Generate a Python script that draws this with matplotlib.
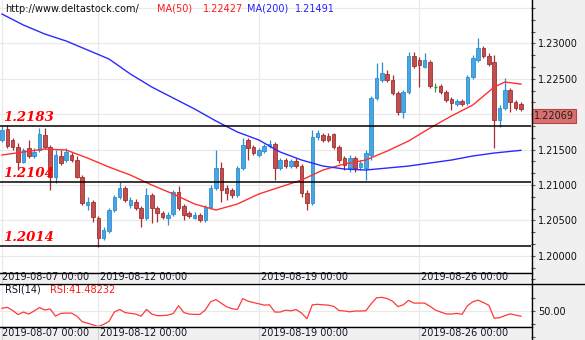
import matplotlib
matplotlib.use("Agg")
import matplotlib.pyplot as plt
from matplotlib.patches import Rectangle
from matplotlib.lines import Line2D
from matplotlib.ticker import MultipleLocator, FormatStrFormatter, FixedLocator
import numpy as np

# ---------------------------------------------------------------------------
# EUR/USD, 4-hour candles starting 2019-08-07 00:00
# ---------------------------------------------------------------------------
opens = [
    1.21637, 1.21792, 1.21637, 1.21538, 1.21326, 1.21524, 1.21411, 1.21495, 1.21707, 1.21538,
    1.21114, 1.21411, 1.21354, 1.21425, 1.21354, 1.21114, 1.20719, 1.20761, 1.20535, 1.20252,
    1.20351, 1.20648, 1.20832, 1.20959, 1.20719, 1.20761, 1.20676, 1.20535, 1.20860, 1.20676,
    1.20606, 1.20535, 1.20592, 1.20902, 1.20704, 1.20606, 1.20535, 1.20577, 1.20507, 1.20690,
    1.20959, 1.21241, 1.20959, 1.20930, 1.20860, 1.21241, 1.21637, 1.21538, 1.21425, 1.21481,
    1.21552, 1.21580, 1.21241, 1.21354, 1.21269, 1.21340, 1.21269, 1.20888, 1.20747, 1.21679,
    1.21707, 1.21693, 1.21721, 1.21538, 1.21382, 1.21241, 1.21382, 1.21255, 1.21241, 1.21425,
    1.22230, 1.22484, 1.22569, 1.22484, 1.22300, 1.22032, 1.22315, 1.22823, 1.22767, 1.22668,
    1.22738, 1.22385, 1.22399, 1.22315, 1.22216, 1.22145, 1.22187, 1.22159, 1.22526, 1.22767,
    1.22936, 1.22823, 1.22738, 1.21919, 1.22089, 1.22343, 1.22173, 1.22145,
]
highs = [
    1.21834, 1.21849, 1.21665, 1.21594, 1.21524, 1.21637, 1.21524, 1.21806, 1.21806, 1.21566,
    1.21495, 1.21495, 1.21524, 1.21467, 1.21411, 1.21142, 1.20832, 1.20789, 1.20563, 1.20408,
    1.20676, 1.20860, 1.21043, 1.20987, 1.20832, 1.20803, 1.20704, 1.20959, 1.20888, 1.20704,
    1.20634, 1.20620, 1.20930, 1.20987, 1.20733, 1.20634, 1.20620, 1.20606, 1.20719, 1.21001,
    1.21495, 1.21326, 1.21001, 1.20959, 1.21269, 1.21665, 1.21665, 1.21566, 1.21524, 1.21580,
    1.21637, 1.21608, 1.21382, 1.21382, 1.21368, 1.21382, 1.21298, 1.20930, 1.21778, 1.21778,
    1.21736, 1.21736, 1.21736, 1.21566, 1.21411, 1.21425, 1.21411, 1.21354, 1.21495, 1.22258,
    1.22724, 1.22738, 1.22625, 1.22555, 1.22329, 1.22343, 1.22880, 1.22880, 1.22809, 1.22865,
    1.22767, 1.22442, 1.22428, 1.22343, 1.22244, 1.22216, 1.22216, 1.22555, 1.22837, 1.23077,
    1.22964, 1.22865, 1.22837, 1.22131, 1.22512, 1.22371, 1.22202, 1.22173,
]
lows = [
    1.21608, 1.21524, 1.21495, 1.21213, 1.21312, 1.21382, 1.21382, 1.21467, 1.21510, 1.20930,
    1.21029, 1.21284, 1.21326, 1.21326, 1.21100, 1.20719, 1.20648, 1.20478, 1.20125, 1.20224,
    1.20323, 1.20620, 1.20803, 1.20761, 1.20676, 1.20648, 1.20408, 1.20507, 1.20464, 1.20478,
    1.20521, 1.20436, 1.20563, 1.20648, 1.20507, 1.20535, 1.20521, 1.20478, 1.20478, 1.20662,
    1.20930, 1.20761, 1.20789, 1.20817, 1.20832, 1.21213, 1.21354, 1.21425, 1.21397, 1.21453,
    1.21524, 1.21072, 1.21213, 1.21241, 1.21241, 1.21241, 1.20832, 1.20648, 1.20719, 1.21637,
    1.21608, 1.21608, 1.21510, 1.21312, 1.21213, 1.21185, 1.21185, 1.21213, 1.21072, 1.21354,
    1.22202, 1.22456, 1.22456, 1.22272, 1.21990, 1.21947, 1.22286, 1.22654, 1.22385, 1.22654,
    1.22371, 1.22315, 1.22286, 1.22173, 1.22060, 1.22117, 1.22117, 1.22131, 1.22498, 1.22738,
    1.22795, 1.22682, 1.21524, 1.21820, 1.22060, 1.22032, 1.22060, 1.22046,
]
closes = [
    1.21778, 1.21552, 1.21538, 1.21326, 1.21495, 1.21411, 1.21467, 1.21721, 1.21538, 1.21114,
    1.21425, 1.21312, 1.21467, 1.21354, 1.21114, 1.20747, 1.20761, 1.20549, 1.20252, 1.20365,
    1.20648, 1.20832, 1.20959, 1.20789, 1.20789, 1.20676, 1.20535, 1.20860, 1.20676, 1.20606,
    1.20549, 1.20577, 1.20902, 1.20676, 1.20577, 1.20563, 1.20577, 1.20507, 1.20690, 1.20959,
    1.21241, 1.20930, 1.20888, 1.20860, 1.21241, 1.21566, 1.21524, 1.21453, 1.21495, 1.21552,
    1.21580, 1.21241, 1.21354, 1.21269, 1.21340, 1.21269, 1.20888, 1.20747, 1.21679, 1.21736,
    1.21637, 1.21637, 1.21538, 1.21354, 1.21284, 1.21382, 1.21241, 1.21312, 1.21453, 1.22230,
    1.22512, 1.22583, 1.22484, 1.22300, 1.22032, 1.22315, 1.22823, 1.22682, 1.22696, 1.22767,
    1.22399, 1.22385, 1.22315, 1.22202, 1.22159, 1.22187, 1.22145, 1.22526, 1.22795, 1.22936,
    1.22823, 1.22710, 1.21919, 1.22089, 1.22343, 1.22173, 1.22089, 1.22069,
]

# moving averages, sampled at these candle positions
ma_idx = [0, 4, 8, 12, 16, 20, 24, 28, 32, 36, 40, 44, 48, 52, 56, 60, 64, 68, 72, 76,
          80, 84, 88, 92, 94, 97]
ma50 = [1.21425, 1.21467, 1.21510, 1.21495, 1.21382, 1.21255, 1.21142, 1.21001, 1.20874,
        1.20733, 1.20648, 1.20733, 1.20874, 1.20973, 1.21072, 1.21213, 1.21298, 1.21354,
        1.21481, 1.21623, 1.21806, 1.21976, 1.22131, 1.22385, 1.22456, 1.22427]
ma200_idx = [0, 4, 8, 12, 16, 20, 24, 28, 32, 36, 40, 44, 48, 52, 56, 60, 64, 68, 72, 76,
             80, 84, 88, 92, 97]
ma200 = [1.23416, 1.23261, 1.23134, 1.23035, 1.22908, 1.22781, 1.22569, 1.22385, 1.22230,
         1.22075, 1.21905, 1.21750, 1.21637, 1.21467, 1.21354, 1.21269, 1.21227, 1.21213,
         1.21241, 1.21269, 1.21312, 1.21354, 1.21411, 1.21453, 1.21491]

# RSI(14), one value per candle
rsi = [53.8, 55.1, 50.3, 44.0, 47.9, 44.8, 49.5, 54.8, 51.1, 52.7,
       41.6, 45.9, 46.3, 46.3, 41.6, 32.9, 30.8, 28.1, 25.7, 28.9,
       33.6, 47.9, 51.9, 47.1, 45.9, 44.8, 41.6, 51.9, 44.8, 42.4,
       42.4, 43.2, 45.6, 57.5, 47.1, 44.8, 44.3, 44.3, 51.1, 63.8,
       67.0, 61.4, 55.9, 53.0, 51.9, 68.6, 64.6, 62.5, 60.6, 58.6,
       59.0, 47.9, 47.9, 50.8, 49.8, 51.7, 46.3, 37.6, 59.0, 59.8,
       59.0, 58.6, 56.7, 50.3, 49.5, 48.3, 49.5, 49.5, 49.8, 60.6,
       69.8, 70.6, 68.6, 64.6, 56.3, 59.0, 65.9, 61.7, 61.7, 61.7,
       56.7, 51.1, 47.9, 45.1, 44.8, 45.9, 44.4, 57.5, 63.8, 66.2,
       62.5, 58.3, 38.4, 39.2, 42.4, 45.1, 43.2, 41.48232]

levels = [1.2183, 1.2104, 1.2014]
level_labels = ["1.2183", "1.2104", "1.2014"]

# price scale: grid every 0.005, the 1.22000 label sits under the last-price marker
grid_prices = [1.195, 1.200, 1.205, 1.210, 1.215, 1.220, 1.225, 1.230, 1.235]
label_prices = [1.200, 1.205, 1.210, 1.215, 1.225, 1.230]

date_idx = [0, 18, 48, 78]
date_labels = ["2019-08-07 00:00", "2019-08-12 00:00", "2019-08-19 00:00", "2019-08-26 00:00"]

site = "http://www.deltastock.com/"
ma50_label, ma50_last = "MA(50)", "1.22427"
ma200_label, ma200_last = "MA(200)", "1.21491"
rsi_label, rsi_last = "RSI(14)", "RSI:41.48232"

# ---------------------------------------------------------------------------
W, H, DPI = 585, 340, 100
UP_FACE, UP_EDGE = "#4aa6e0", "#2b8fd2"
DN_FACE, DN_EDGE = "#c24f4f", "#a33030"
DOJI = "#2f9b2f"
GRID = "#e9e9e9"
STRIP = "#f0f0f0"
RED_TXT = "#ff1a1a"
BLUE_TXT = "#2323ff"
TXT = "#141428"

plt.rcParams["font.family"] = ["DejaVu Sans"]


def fx(px):
    return px / W


def fy(py):
    return 1 - py / H


fig = plt.figure(figsize=(W / DPI, H / DPI), dpi=DPI, facecolor="white")

# grey column behind the price scales
fig.patches.append(Rectangle((fx(531), 0), 1 - fx(531), 1, transform=fig.transFigure,
                             facecolor=STRIP, edgecolor="none", zorder=-5))

x_lo, x_hi = -2 / 5.35, 529 / 5.35
idx = np.arange(len(closes))

# ---------------- price panel ----------------
ax = fig.add_axes([0, fy(283), fx(531), 283 / H])
ax.set_xlim(x_lo, x_hi)
ax.set_ylim(1.196172, 1.236144)
for s in ax.spines.values():
    s.set_visible(False)
ax.set_xticks([])
ax.yaxis.tick_right()
ax.yaxis.set_major_locator(FixedLocator(label_prices))
ax.yaxis.set_minor_locator(MultipleLocator(0.005 / 3))
ax.yaxis.set_major_formatter(FormatStrFormatter("%.5f"))
ax.tick_params(axis="y", which="both", direction="out", length=3, width=0.8,
               color="#505050", labelsize=7, pad=2, labelcolor="#101010")
for gp in grid_prices:
    ax.axhline(gp, color=GRID, lw=0.9, zorder=0)
for d in date_idx:
    ax.axvline(d, color=GRID, lw=0.9, zorder=0)

o = np.array(opens); c = np.array(closes); hi = np.array(highs); lo = np.array(lows)
up = c > o
dn = c < o
eq = c == o
ax.vlines(idx[up], lo[up], hi[up], color=UP_EDGE, lw=0.9, zorder=2)
ax.vlines(idx[dn], lo[dn], hi[dn], color=DN_EDGE, lw=0.9, zorder=2)
ax.vlines(idx[eq], lo[eq], hi[eq], color=DOJI, lw=0.9, zorder=2)
ax.bar(idx[up], (c - o)[up], bottom=o[up], width=0.66, color=UP_FACE,
       edgecolor=UP_EDGE, lw=0.6, zorder=3)
ax.bar(idx[dn], (o - c)[dn], bottom=c[dn], width=0.66, color=DN_FACE,
       edgecolor=DN_EDGE, lw=0.6, zorder=3)
ax.hlines(c[eq], idx[eq] - 0.33, idx[eq] + 0.33, color=DOJI, lw=1.0, zorder=3)

ax.plot(ma_idx, ma50, color="#ff3030", lw=1.0, zorder=4)
ax.plot(ma200_idx, ma200, color="#2a2aff", lw=1.0, zorder=4)

for lv, lab in zip(levels, level_labels):
    ax.axhline(lv, color="black", lw=1.1, zorder=5)
    ax.annotate(lab, xy=(0, lv), xycoords=("axes fraction", "data"),
                xytext=(3, 5), textcoords="offset pixels", ha="left", va="baseline",
                color="#ff0000", fontsize=9.5, family="DejaVu Serif",
                weight="bold", style="italic", zorder=6)

# last price marker on the scale
ax.annotate(f"{closes[-1]:.5f}", xy=(1.0, closes[-1]), xycoords=("axes fraction", "data"),
            xytext=(3, -7), textcoords="offset pixels", ha="left", va="center",
            fontsize=7, color="#202020", annotation_clip=False,
            bbox=dict(boxstyle="square,pad=0.2", facecolor="#d7706e", edgecolor="#b84444",
                      lw=0.8))

# ---------------- RSI panel ----------------
axr = fig.add_axes([0, 0, fx(531), 57 / H])
axr.set_xlim(x_lo, x_hi)
axr.set_ylim(4.9, 92.6)
for s in axr.spines.values():
    s.set_visible(False)
axr.set_xticks([])
axr.yaxis.tick_right()
axr.yaxis.set_major_locator(FixedLocator([50]))
axr.yaxis.set_minor_locator(FixedLocator([10, 30, 70]))
axr.yaxis.set_major_formatter(FormatStrFormatter("%.2f"))
axr.tick_params(axis="y", which="both", direction="out", length=3, width=0.8,
                color="#505050", labelsize=7, pad=2, labelcolor="#101010")
axr.axhline(50, color=GRID, lw=0.9, zorder=0)
for d in date_idx:
    axr.axvline(d, color=GRID, lw=0.9, zorder=0)
axr.plot(idx, rsi, color="#ff3a3a", lw=0.9, zorder=3)

# ---------------- date strips ----------------
for top, hgt in ((272, 11), (326, 14)):
    axd = fig.add_axes([0, fy(top + hgt), fx(531), hgt / H])
    axd.set_facecolor(STRIP)
    axd.set_xlim(x_lo, x_hi)
    axd.set_ylim(0, 1)
    axd.set_xticks([]); axd.set_yticks([])
    for s in axd.spines.values():
        s.set_visible(False)
    for d, lab in zip(date_idx, date_labels):
        axd.axvline(d, color="#d4d4d4", lw=0.9)
        axd.annotate(lab, xy=(d, 0.5), xycoords=("data", "axes fraction"),
                     xytext=(2 if d else 0, 0), textcoords="offset pixels",
                     ha="left", va="center", fontsize=7, color=TXT)

# ---------------- frame lines ----------------
def hline(py, x0, x1):
    fig.add_artist(Line2D([fx(x0), fx(x1)], [fy(py), fy(py)], transform=fig.transFigure,
                          color="black", lw=1.0, zorder=10))


fig.add_artist(Line2D([fx(531.5), fx(531.5)], [0, 1], transform=fig.transFigure,
                      color="black", lw=1.0, zorder=10))
hline(272.5, 0, 531.5)
hline(283.5, 0, 585)
hline(326.5, 0, 531.5)

# ---------------- header texts ----------------
fig.text(fx(5), fy(8.5), site, fontsize=7, color="#101010", va="center", ha="left")
fig.text(fx(157), fy(8.5), ma50_label, fontsize=7, color=RED_TXT, va="center")
fig.text(fx(203), fy(8.5), ma50_last, fontsize=7, color=RED_TXT, va="center")
fig.text(fx(247), fy(8.5), ma200_label, fontsize=7, color=BLUE_TXT, va="center")
fig.text(fx(295), fy(8.5), ma200_last, fontsize=7, color=BLUE_TXT, va="center")
fig.text(fx(5), fy(290), rsi_label, fontsize=7, color=TXT, va="center")
fig.text(fx(50), fy(290), rsi_last, fontsize=7, color=RED_TXT, va="center")

fig.savefig("out.png", dpi=DPI, facecolor="white")
